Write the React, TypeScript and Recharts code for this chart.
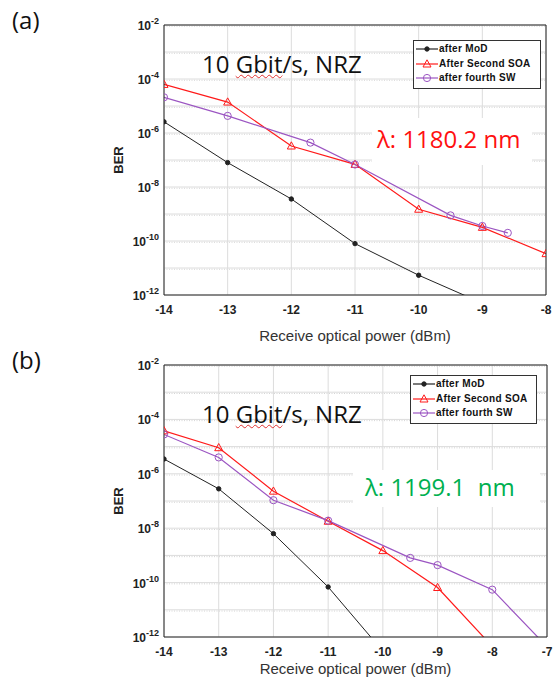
import React from "react";
import { LineChart, Line, XAxis, YAxis, CartesianGrid, Legend } from "recharts";

// (a) 1180.2 nm
const modAx = [-14, -13, -12, -11, -10, -9];
const modAy = [2.6e-6, 8e-8, 3.6e-9, 8e-11, 5.4e-12, 5e-13];
const soaAx = [-14, -13, -12, -11, -10, -9, -8];
const soaAy = [6.3e-5, 1.4e-5, 3.3e-7, 6.9e-8, 1.5e-9, 3.2e-10, 3.4e-11];
const swAx = [-14, -13, -11.7, -11, -9.5, -9, -8.6];
const swAy = [2.1e-5, 4.3e-6, 4.4e-7, 6.8e-8, 8.9e-10, 3.6e-10, 2.0e-10];

// (b) 1199.1 nm
const modBx = [-14, -13, -12, -11, -10];
const modBy = [3.5e-6, 2.8e-7, 6.3e-9, 6.9e-11, 3e-13];
const soaBx = [-14, -13, -12, -11, -10, -9, -8];
const soaBy = [3.8e-5, 9.1e-6, 2.3e-7, 1.8e-8, 1.5e-9, 6.6e-11, 4.5e-13];
const swBx = [-14, -13, -12, -11, -9.5, -9, -8, -7];
const swBy = [2.8e-5, 4e-6, 1.07e-7, 1.9e-8, 8.1e-10, 4.4e-10, 5.5e-11, 4.4e-13];

const seriesNames = ["after MoD", "After Second SOA", "after fourth SW"];
const seriesColors = ["#222222", "#ff1a1a", "#9b55c2"];
const yTicks = [1e-12, 1e-10, 1e-8, 1e-6, 1e-4, 1e-2];

const decades: number[] = [];
const minors: number[] = [];
for (let d = -12; d <= -2; d++) {
  decades.push(Math.pow(10, d));
  if (d < -2) for (let k = 2; k <= 9; k++) minors.push(k * Math.pow(10, d));
}

const zip = (xs: number[], ys: number[]) => xs.map((x, i) => ({ x, y: ys[i] }));

const SANS = "'Liberation Sans', Arial, sans-serif";
const BODY = "'Open Sans', sans-serif";

const Marker = ({ kind, cx, cy, color }: { kind: number; cx: number; cy: number; color: string }) => {
  if (cx == null || cy == null) return null;
  if (kind === 0) return <circle cx={cx} cy={cy} r={2.2} fill={color} stroke={color} />;
  if (kind === 1)
    return (
      <path
        d={`M${cx},${cy - 4.2}L${cx + 4},${cy + 3}L${cx - 4},${cy + 3}Z`}
        fill="none"
        stroke={color}
        strokeWidth={1}
      />
    );
  return <circle cx={cx} cy={cy} r={3.6} fill="none" stroke={color} strokeWidth={1} />;
};

const PowTick = (props: any) => {
  const { x, y, payload } = props;
  const e = Math.round(Math.log10(payload.value));
  return (
    <text x={x - 3} y={y + 5} textAnchor="end" fontFamily={SANS} fontWeight="bold" fontSize={12} fill="#222">
      <tspan>10</tspan>
      <tspan dy={-6} fontSize={9}>{e}</tspan>
    </text>
  );
};

const LegendBox = () => (
  <div
    style={{
      border: "1px solid #333",
      background: "#fff",
      padding: "1px 4px 2px 2px",
      fontFamily: SANS,
      fontWeight: "bold",
      fontSize: 10,
      lineHeight: "14.5px",
      color: "#111",
      letterSpacing: 0.3,
    }}
  >
    {seriesNames.map((n, i) => (
      <div key={n} style={{ display: "flex", alignItems: "center", whiteSpace: "nowrap" }}>
        <svg width={22} height={10} style={{ marginRight: 1 }}>
          <line x1={0} y1={5} x2={22} y2={5} stroke={seriesColors[i]} strokeWidth={1.2} />
          <Marker kind={i} cx={11} cy={5} color={seriesColors[i]} />
        </svg>
        {n}
      </div>
    ))}
  </div>
);

type PanelProps = {
  tag: string;
  top: number;
  height: number;
  xMax: number;
  plotRight: number;
  bottom: number;
  labelOffset: number;
  series: { x: number; y: number }[][];
  titleTop: number;
  lambda: string;
  lambdaColor: string;
  lambdaBox: { left: number; top: number; width: number; height: number; paddingLeft: number; paddingTop: number };
  legendPos: { left: number; top: number; width: number };
};

const Panel = (p: PanelProps) => {
  const xTicks: number[] = [];
  for (let v = -14; v <= p.xMax; v++) xTicks.push(v);
  return (
    <div style={{ position: "absolute", left: 0, top: p.top, width: 557, height: p.height }}>
      <LineChart
        width={557}
        height={p.height}
        margin={{ top: 25, right: 557 - p.plotRight, bottom: p.bottom, left: 0 }}
      >
        <CartesianGrid horizontalValues={minors} vertical={false} stroke="#d4d4d4" strokeDasharray="1 1.5" />
        <CartesianGrid horizontalValues={decades} verticalValues={xTicks} stroke="#dcdcdc" />
        <XAxis
          dataKey="x"
          type="number"
          domain={[-14, p.xMax]}
          ticks={xTicks}
          allowDataOverflow
          height={30}
          tickSize={0}
          tickMargin={10}
          axisLine={{ stroke: "#222" }}
          tick={{ fontFamily: SANS, fontWeight: "bold", fontSize: 12, fill: "#222" }}
          label={{
            value: "Receive optical power (dBm)",
            position: "bottom",
            offset: p.labelOffset,
            style: { fontFamily: SANS, fontSize: 15, fill: "#333" },
          }}
        />
        <XAxis
          xAxisId="top"
          orientation="top"
          type="number"
          domain={[-14, p.xMax]}
          ticks={xTicks}
          mirror
          tickSize={4}
          tick={() => <g />}
          axisLine={{ stroke: "#222" }}
          tickLine={{ stroke: "#222" }}
        />
        <XAxis
          xAxisId="bot"
          orientation="bottom"
          type="number"
          domain={[-14, p.xMax]}
          ticks={xTicks}
          mirror
          tickSize={4}
          tick={() => <g />}
          axisLine={false}
          tickLine={{ stroke: "#222" }}
        />
        <YAxis
          dataKey="y"
          type="number"
          scale="log"
          domain={[1e-12, 1e-2]}
          allowDataOverflow
          ticks={yTicks}
          width={164}
          tickSize={0}
          axisLine={{ stroke: "#222" }}
          tick={<PowTick />}
          label={{
            value: "BER",
            angle: -90,
            position: "insideLeft",
            offset: 118,
            style: { fontFamily: SANS, fontWeight: "bold", fontSize: 13, fill: "#222", textAnchor: "middle" },
          }}
        />
        <YAxis
          yAxisId="lm"
          orientation="left"
          type="number"
          scale="log"
          domain={[1e-12, 1e-2]}
          ticks={[...decades, ...minors]}
          mirror
          tickSize={3}
          tick={() => <g />}
          axisLine={false}
          tickLine={{ stroke: "#222" }}
        />
        <YAxis
          yAxisId="r"
          orientation="right"
          type="number"
          scale="log"
          domain={[1e-12, 1e-2]}
          ticks={[...decades, ...minors]}
          mirror
          tickSize={3}
          tick={() => <g />}
          axisLine={{ stroke: "#222" }}
          tickLine={{ stroke: "#222" }}
        />
        {p.series.map((d, i) => (
          <Line
            key={seriesNames[i]}
            data={d}
            dataKey="y"
            name={seriesNames[i]}
            type="linear"
            stroke={seriesColors[i]}
            strokeWidth={i === 0 ? 1 : 1.2}
            isAnimationActive={false}
            dot={(dp: any) => <Marker key={`${i}-${dp.index}`} kind={i} cx={dp.cx} cy={dp.cy} color={seriesColors[i]} />}
            activeDot={false}
          />
        ))}
        <Legend
          layout="vertical"
          align="center"
          verticalAlign="middle"
          wrapperStyle={{ ...p.legendPos }}
          content={() => <LegendBox />}
        />
      </LineChart>
      <div style={{ position: "absolute", left: 12, top: 3, fontFamily: BODY, fontSize: 24, color: "#111" }}>
        {p.tag}
      </div>
      <div
        style={{
          position: "absolute",
          left: 202,
          top: p.titleTop,
          fontFamily: BODY,
          fontSize: 24,
          color: "#111",
          whiteSpace: "nowrap",
        }}
      >
        10{" "}
        <span style={{ textDecoration: "underline wavy #e03030", textDecorationThickness: 1 }}>Gbit</span>
        /s, NRZ
      </div>
      <div
        style={{
          position: "absolute",
          ...p.lambdaBox,
          boxSizing: "border-box",
          background: "#fff",
          fontFamily: BODY,
          fontSize: 24,
          lineHeight: "33px",
          color: p.lambdaColor,
          whiteSpace: "pre",
        }}
      >
        {p.lambda}
      </div>
    </div>
  );
};

export default function App() {
  return (
    <div style={{ position: "absolute", left: 0, top: 0, width: 557, height: 679, background: "#fff" }}>
      <Panel
        tag="(a)"
        top={0}
        height={350}
        xMax={-8}
        plotRight={546}
        bottom={25}
        labelOffset={5}
        series={[zip(modAx, modAy), zip(soaAx, soaAy), zip(swAx, swAy)]}
        titleTop={47}
        lambda={"λ: 1180.2 nm"}
        lambdaColor="#ff1010"
        lambdaBox={{ left: 372, top: 118, width: 160, height: 47, paddingLeft: 5, paddingTop: 4 }}
        legendPos={{ left: 413, top: 40, width: 128 }}
      />
      <Panel
        tag="(b)"
        top={340}
        height={339}
        xMax={-7}
        plotRight={547}
        bottom={12}
        labelOffset={-4}
        series={[zip(modBx, modBy), zip(soaBx, soaBy), zip(swBx, swBy)]}
        titleTop={57}
        lambda={"λ: 1199.1  nm"}
        lambdaColor="#00b050"
        lambdaBox={{ left: 353, top: 130, width: 187, height: 37, paddingLeft: 12, paddingTop: 0 }}
        legendPos={{ left: 410, top: 35, width: 127 }}
      />
    </div>
  );
}
